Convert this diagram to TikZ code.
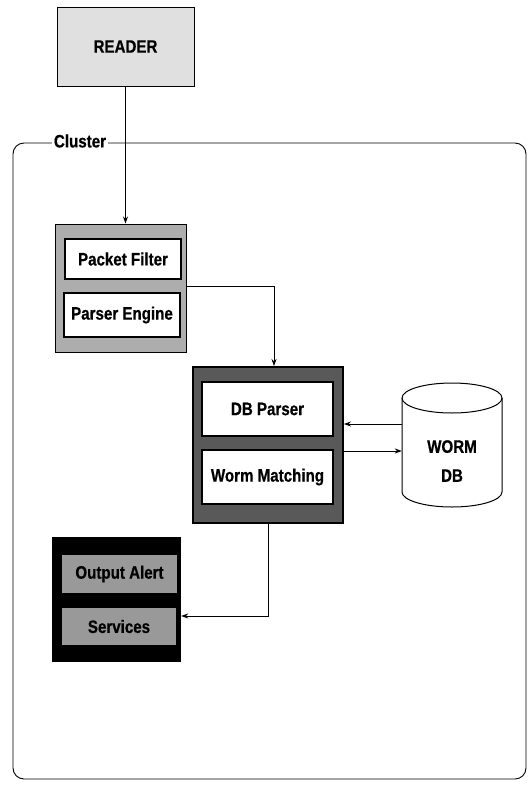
\documentclass[tikz,border=0pt]{standalone}
\usepackage{fontspec}
\setmainfont{Liberation Sans}[FakeStretch=0.84,BoldFeatures={FakeBold=0.6}]
\usetikzlibrary{arrows.meta,calc}
\begin{document}
\begin{tikzpicture}[x=1pt,y=-1pt,
  lbl/.style={font=\bfseries\fontsize{18}{21}\selectfont},
  arr/.style={-{Stealth[length=7pt,width=5pt]},line width=0.8pt},
  conn/.style={line width=0.8pt},
  readerbox/.style={draw,line width=1pt,fill=black!12,lbl},
  pgbox/.style={draw,line width=1pt,fill=black!32},
  whitebox/.style={draw,line width=1.2pt,fill=white,lbl},
  dbbox/.style={draw=black,line width=2pt,fill=black!65},
  outbox/.style={fill=black},
  graybox/.style={fill=black!40,lbl}
]
\useasboundingbox (0,0) rectangle (531,785);
% cluster frame
\draw[line width=0.9pt,rounded corners=11pt] (13,143) rectangle (526,779);
\node[lbl,fill=white,inner sep=1.5pt] (clusterlbl) at (80,141) {Cluster};
% reader
\node[readerbox,minimum width=137,minimum height=79] (reader) at (125.5,46.5) {READER};
% packet group
\node[pgbox,minimum width=131,minimum height=128] (pgroup) at (120.5,288) {};
\node[whitebox,minimum width=116,minimum height=40] (pfilter) at (123,259) {Packet Filter};
\node[whitebox,minimum width=116,minimum height=44] (pengine) at (122,315) {Parser Engine};
% db group
\node[dbbox,minimum width=150,minimum height=156] (dbgroup) at (268,445) {};
\node[whitebox,minimum width=131,minimum height=54] (dbparser) at (267.5,409) {DB Parser};
\node[whitebox,minimum width=131,minimum height=54] (wmatch) at (267.5,477) {Worm Matching};
% worm db cylinder
\node[minimum width=100,minimum height=124,inner sep=0pt] (worm) at (452,445) {};
\draw[line width=1pt,fill=white]
  (402,398) -- (402,492) arc[start angle=180,end angle=0,x radius=50,y radius=15]
  -- (502,398) arc[start angle=0,end angle=-180,x radius=50,y radius=15] -- cycle;
\draw[line width=1pt] (402,398) arc[start angle=180,end angle=0,x radius=50,y radius=15];
\node[lbl,align=center] (wormtxt) at (452,461) {WORM\\[8pt]DB};
% output group
\node[outbox,minimum width=129,minimum height=125] (outgroup) at (116.5,599.5) {};
\node[graybox,minimum width=115,minimum height=38] (oalert) at (119.5,574) {Output Alert};
\node[graybox,minimum width=114,minimum height=37] (services) at (119,626.5) {Services};
% connectors
\draw[arr] (reader.south) -- (reader.south |- pgroup.north);
\draw[arr] ($(pgroup.east)+(0,-2)$) -| ($(dbgroup.north)+(6,0)$);
\draw[arr] ($(worm.west)+(0,-21)$) -- ($(dbgroup.east)+(0,-21)$);
\draw[arr] ($(dbgroup.east)+(0,6)$) -- ($(worm.west)+(0,6)$);
\draw[arr] (dbgroup.south) |- ($(outgroup.east)+(0,16.5)$);
\end{tikzpicture}
\end{document}
